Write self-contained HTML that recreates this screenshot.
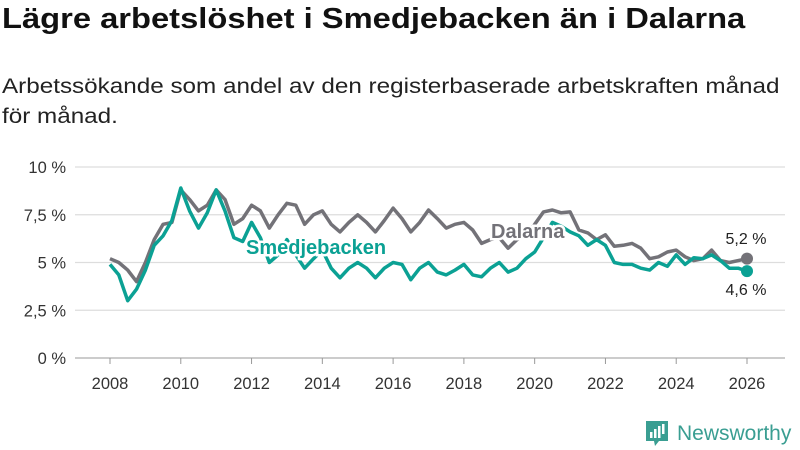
<!DOCTYPE html>
<html><head><meta charset="utf-8">
<style>
body{margin:0;width:800px;height:450px;background:#fff;overflow:hidden;font-family:"Liberation Sans","DejaVu Sans",sans-serif;color:#111}
#title{position:absolute;left:2px;top:3px;font-size:29px;font-weight:bold;white-space:nowrap;transform-origin:0 0}
#sub{position:absolute;left:2px;top:72px;font-size:21px;line-height:30px;color:#222;white-space:nowrap;transform-origin:0 0}
svg{position:absolute;left:0;top:0}
</style></head><body>
<div id="title">Lägre arbetslöshet i Smedjebacken än i Dalarna</div>
<div id="sub"><span id="sub1">Arbetssökande som andel av den registerbaserade arbetskraften månad</span><br>för månad.</div>
<svg id="chart" width="800" height="450"></svg>
<script>
const startYear = 2008;
const step = 0.25;
const dalarna = [5.2,5.0,4.6,4.0,5.0,6.2,7.0,7.1,8.8,8.3,7.7,8.0,8.8,8.3,7.0,7.3,8.0,7.7,6.8,7.5,8.1,8.0,7.0,7.5,7.7,7.0,6.6,7.1,7.5,7.1,6.6,7.2,7.85,7.3,6.6,7.1,7.75,7.3,6.8,7.0,7.1,6.7,6.0,6.2,6.3,5.75,6.2,6.4,7.0,7.65,7.75,7.6,7.65,6.7,6.55,6.2,6.45,5.85,5.9,6.0,5.75,5.2,5.3,5.55,5.65,5.3,5.1,5.2,5.65,5.1,5.0,5.1,5.2];
const smedjebacken = [4.9,4.35,3.0,3.6,4.6,5.9,6.4,7.2,8.9,7.7,6.8,7.6,8.8,7.7,6.3,6.1,7.1,6.3,5.0,5.4,6.2,5.4,4.7,5.2,5.65,4.7,4.2,4.7,5.0,4.7,4.2,4.7,5.0,4.9,4.1,4.7,5.0,4.5,4.35,4.6,4.9,4.35,4.25,4.7,5.0,4.5,4.7,5.2,5.55,6.3,7.1,6.9,6.6,6.4,5.9,6.2,5.9,5.0,4.9,4.9,4.7,4.6,5.0,4.8,5.4,4.9,5.25,5.2,5.4,5.1,4.7,4.7,4.55];
const yTicks = [0,2.5,5,7.5,10];
const yTickLabels = ["0 %","2,5 %","5 %","7,5 %","10 %"];
const xTicks = [2008,2010,2012,2014,2016,2018,2020,2022,2024,2026];

const ti=document.getElementById('title');
ti.style.transform='scaleX('+(743/ti.offsetWidth)+')';
const s1=document.getElementById('sub1');
document.getElementById('sub').style.transform='scaleX('+(778/s1.offsetWidth)+')';

const NS='http://www.w3.org/2000/svg';
const svg=document.getElementById('chart');
const xS=y=>110+(y-2008)*(747-110)/18;
const yS=v=>358-v*19.1;
function mk(t,a,p){const e=document.createElementNS(NS,t);for(const k in a)e.setAttribute(k,a[k]);(p||svg).appendChild(e);return e;}
yTicks.forEach((t,i)=>{
  const g=mk('line',{x1:75,x2:785,y1:yS(t),y2:yS(t),stroke:t===0?'#bbb':'#ddd','stroke-width':t===0?1.5:1.2});
  
  
  const l=mk('text',{x:66,y:yS(t)+6,'text-anchor':'end','font-size':16.5,fill:'#333','font-family':'Liberation Sans, sans-serif'});
  l.textContent=yTickLabels[i];
  
  
});
xTicks.forEach(t=>{
  const tk=mk('line',{x1:xS(t),x2:xS(t),y1:358,y2:364,stroke:'#999','stroke-width':1});
  
  
  const l=mk('text',{x:xS(t),y:389,'text-anchor':'middle','font-size':16.5,fill:'#333','font-family':'Liberation Sans, sans-serif'});
  l.textContent=t;
  
  
});
function line(arr,color,name){
  const d=arr.map((v,i)=>(i?'L':'M')+xS(startYear+i*step).toFixed(1)+','+yS(v).toFixed(1)).join('');
  const p=mk('path',{d:d,fill:'none',stroke:color,'stroke-width':3.5,'stroke-linejoin':'round'});
  
  
  const n=arr.length-1;
  const c=mk('circle',{cx:xS(startYear+n*step),cy:yS(arr[n]),r:6,fill:color});
  
  
}
line(dalarna,'#737278','dalarna');
line(smedjebacken,'#0ba194','smedjebacken');
function lab(x,y,txt,color,name,anchor,size,bold){
  const t=mk('text',{x:x,y:y,'text-anchor':anchor,'font-size':size,'font-weight':bold?'bold':'normal',fill:color,stroke:'#fff','stroke-width':bold?5:4,'paint-order':'stroke','font-family':'Liberation Sans, sans-serif'});
  t.textContent=txt;
  
  
}
lab(491,238,'Dalarna','#737278','dalarna-label','start',20,true);
lab(246,254,'Smedjebacken','#0ba194','smedjebacken-label','start',20,true);
lab(746,244,'5,2 %','#222','dalarna-end-value','middle',16,false);
lab(746,295,'4,6 %','#222','smedjebacken-end-value','middle',16,false);
const lg=mk('g',{});


mk('path',{d:'M646,421h22v20h-9l-4,5l-1,-5h-8z',fill:'#3a9e92'},lg);
mk('rect',{x:650,y:432,width:2.5,height:6,fill:'#fff'},lg);
mk('rect',{x:654,y:429,width:2.5,height:9,fill:'#fff'},lg);
mk('rect',{x:658,y:426,width:2.5,height:12,fill:'#fff'},lg);
mk('rect',{x:662,y:424,width:2.5,height:10,fill:'#fff'},lg);
const lt=mk('text',{x:677,y:440,'font-size':21,fill:'#3a9e92','font-family':'Liberation Sans, sans-serif'},lg);
lt.textContent='Newsworthy';
</script>
</body></html>
